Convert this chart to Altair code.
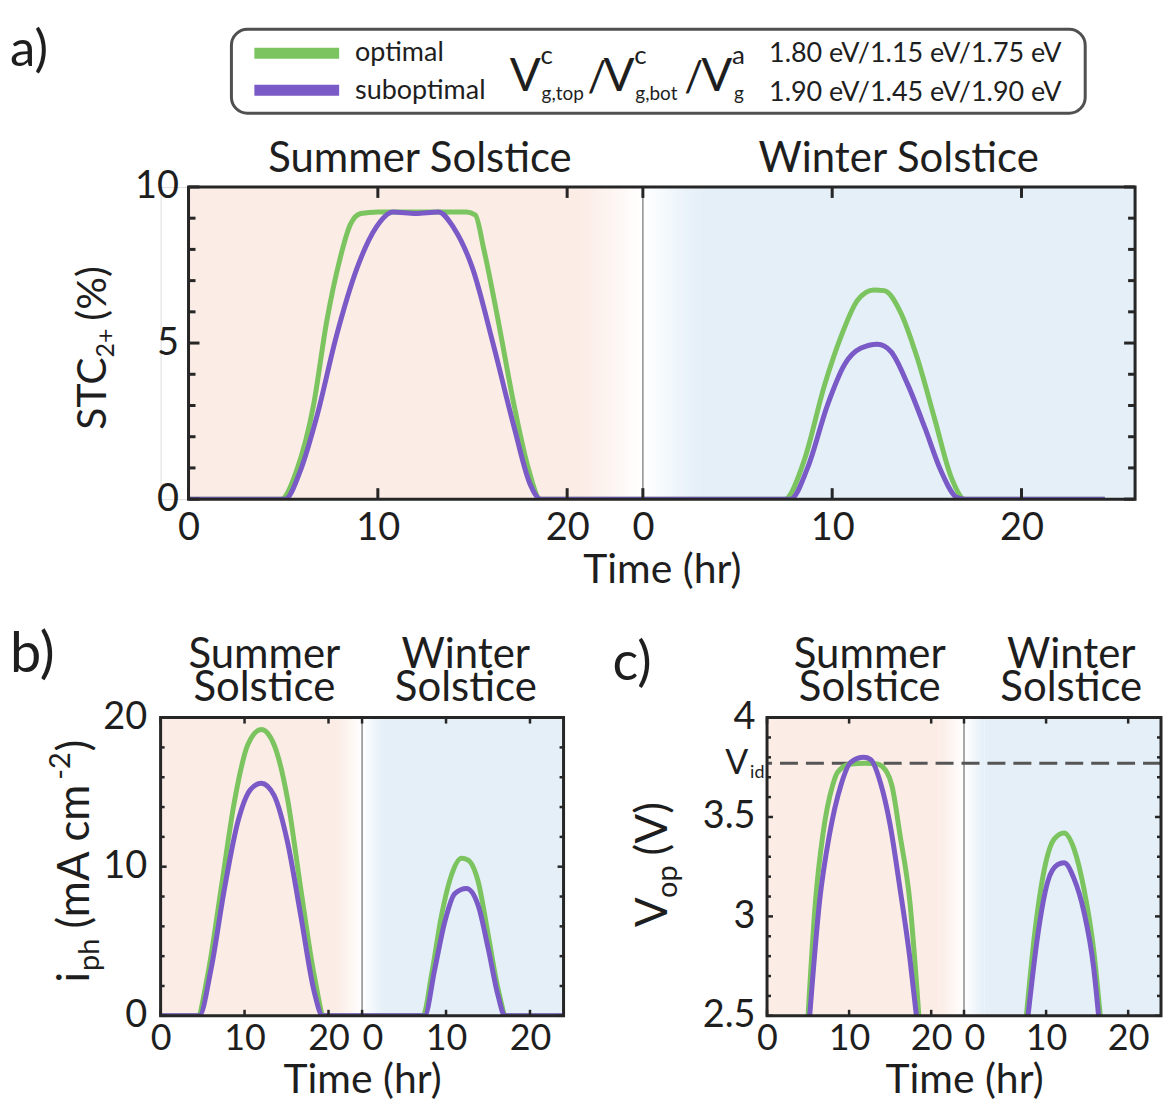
import altair as alt
import pandas as pd

GREEN = "#7bc45f"
PURPLE = "#7a5ac6"
PINK = "#fbece5"
BLUE = "#e4eff8"
FRAME = "#262626"
TXT = "#1e1e1e"
FONT = "Lato"
SERIES = ["optimal", "suboptimal"]
TICK_FS = 38
TITLE_FS = 41

# ---------------- data: (hour of day, value) ----------------
# panel a : STC_2+ (%)
a_sum_opt_h = [0, 4.9, 5.7, 6.6, 7.3, 8.0, 8.55, 9.1, 10, 11, 12, 13, 14, 14.7, 15.15, 15.6, 16.3, 17.2, 17.9, 18.6, 24]
a_sum_opt_v = [0, 0, 0.9, 3.0, 5.7, 7.7, 8.8, 9.15, 9.2, 9.2, 9.2, 9.2, 9.2, 9.2, 9.1, 8.0, 5.9, 3.0, 1.1, 0, 0]
a_sum_sub_h = [0, 5.1, 5.9, 6.8, 7.8, 8.9, 9.9, 10.8, 12.0, 13.2, 14.0, 15.0, 16.1, 17.2, 18.05, 18.6, 24]
a_sum_sub_v = [0, 0, 0.9, 2.7, 5.2, 7.4, 8.7, 9.2, 9.15, 9.2, 8.7, 7.4, 4.95, 2.3, 0.47, 0, 0]
a_win_opt_h = [0, 7.5, 8.5, 9.6, 10.5, 11.35, 12.2, 12.75, 13.6, 14.5, 15.4, 16.3, 17.0, 24.4]
a_win_opt_v = [0, 0, 1.2, 3.66, 5.26, 6.38, 6.7, 6.68, 6.0, 4.51, 2.6, 0.68, 0, 0]
a_win_sub_h = [0, 7.8, 8.7, 9.76, 10.64, 11.5, 12.4, 13.1, 14.0, 14.9, 15.75, 16.6, 17.0, 24.4]
a_win_sub_v = [0, 0, 1.0, 3.03, 4.3, 4.83, 4.96, 4.73, 3.66, 2.28, 0.9, 0.05, 0, 0]

# panel b : i_ph (mA cm^-2)
b_sum_opt_h = [0, 4.4, 5.6, 7.2, 8.8, 10.4, 12.0, 13.5, 15.1, 16.7, 18.3, 19.5, 24]
b_sum_opt_v = [0, 0, 2.7, 8.5, 14.4, 18.2, 19.2, 18.2, 14.6, 8.5, 2.7, 0, 0]
b_sum_sub_h = [0, 4.6, 6.0, 7.6, 9.2, 10.75, 12.0, 13.5, 15.1, 16.7, 18.3, 19.3, 24]
b_sum_sub_v = [0, 0, 3.1, 8.5, 13.0, 15.2, 15.6, 14.8, 11.7, 6.7, 1.6, 0, 0]
b_win_opt_h = [0, 7.26, 8.26, 9.45, 10.65, 11.84, 12.6, 13.83, 15.03, 16.2, 17.2, 24]
b_win_opt_v = [0, 0, 2.7, 6.7, 9.44, 10.56, 10.45, 9.0, 5.4, 1.8, 0, 0]
b_win_sub_h = [0, 7.45, 8.65, 9.85, 11.04, 12.44, 13.83, 15.03, 16.2, 17.0, 24]
b_win_sub_v = [0, 0, 3.1, 6.3, 8.2, 8.54, 7.4, 4.5, 1.35, 0, 0]

# panel c : V_op (V)  (only the part above the 2.5 V axis floor)
c_sum_opt_h = [5.0, 5.9, 6.8, 8.0, 8.6, 10.2, 12.0, 13.4, 14.6, 15.2, 16.2, 17.4, 18.5]
c_sum_opt_v = [2.5, 3.075, 3.41, 3.66, 3.725, 3.767, 3.77, 3.767, 3.725, 3.66, 3.41, 3.075, 2.5]
c_sum_sub_h = [5.2, 6.4, 7.6, 9.0, 10.2, 11.8, 12.6, 13.8, 15.0, 16.2, 17.4, 18.2]
c_sum_sub_v = [2.5, 3.075, 3.41, 3.66, 3.775, 3.80, 3.79, 3.675, 3.46, 3.14, 2.79, 2.5]
c_win_opt_h = [7.6, 8.6, 9.8, 11.0, 12.2, 13.4, 14.6, 15.8, 16.6]
c_win_opt_v = [2.5, 2.91, 3.24, 3.39, 3.42, 3.34, 3.14, 2.83, 2.5]
c_win_sub_h = [7.8, 9.0, 10.2, 11.4, 12.2, 13.4, 14.6, 15.8, 16.4]
c_win_sub_v = [2.5, 2.91, 3.175, 3.26, 3.27, 3.19, 3.025, 2.74, 2.5]
V_ID = 3.77

X_TICKS = [0, 10, 20, 24, 34, 44]   # winter day is shifted by 24 h
DAY_SHIFT = 24

# rough Lato advance widths (em) used only to chain the pieces of composite titles
LATO_W = {" ": .193, "(": .31, ")": .31, "%": .78, "+": .58, "-": .36, "/": .39, ",": .22, ".": .25,
          "A": .68, "C": .66, "S": .52, "T": .56, "V": .66, "a": .49, "b": .56, "c": .46, "d": .56,
          "e": .52, "g": .50, "h": .56, "i": .24, "l": .24, "m": .85, "o": .56, "p": .56, "r": .37,
          "s": .41, "t": .35, "u": .56}


def tw(s, fs):
    return sum(LATO_W.get(ch, .58) for ch in s) * fs


def long(rows):
    recs = []
    for series, day, hs, vs in rows:
        off = 0 if day == "summer" else DAY_SHIFT
        for h, v in zip(hs, vs):
            recs.append({"t": h + off, "v": v, "series": series, "day": day})
    return pd.DataFrame(recs)


def txt(s, x, y, fs, angle=0, align="left", baseline="alphabetic", color=TXT, line_height=None):
    kw = dict(lineBreak="\n", lineHeight=line_height) if line_height else {}
    return alt.Chart(pd.DataFrame({"s": [s]})).mark_text(
        font=FONT, fontSize=fs, angle=angle, align=align, baseline=baseline, color=color, **kw
    ).encode(text="s:N", x=alt.value(x), y=alt.value(y))


def vtitle(pieces, xb, yc):
    """rotated (bottom-to-top) title made of pieces (text, size, shift, gap);
    shift >0 moves a piece down in the text frame (subscript), <0 up (superscript)."""
    total = sum(tw(s, fs) + gap for s, fs, sh, gap in pieces)
    y = yc + total / 2
    out = []
    for s, fs, sh, gap in pieces:
        out.append(txt(s, xb + sh, y, fs, angle=270))
        y -= tw(s, fs) + gap
    return out


def anchor(x, y):
    return alt.Chart(pd.DataFrame({"a": [0]})).mark_rule(opacity=0).encode(
        x=alt.value(x), x2=alt.value(x + 1), y=alt.value(y), y2=alt.value(y + 1))


def panel(df, W, H, xmax, ydom, y_major, y_minor, fade0, fade1, lw, tl_major, tl_minor,
          tick_w, lab_pad_x, title_pad_x, lab_pad_y, xlab_fs, ox=0, shift_winter0=False,
          extras_below=(), extras_above=()):
    """ox: left inset of the plot frame inside the view (used to line up the panels)."""
    xs = alt.Scale(domain=[0, xmax], range=[ox, ox + W], nice=False, zero=False)
    ys = alt.Scale(domain=ydom, nice=False, zero=False)
    xkw = dict(titleX=ox + W / 2) if ox else {}
    if shift_winter0:
        xkw["labelAlign"] = {"condition": {"test": "datum.value == 24", "value": "left"}, "value": "center"}
    xaxis = alt.Axis(values=X_TICKS, labelExpr="'' + (datum.value >= 24 ? datum.value - 24 : datum.value)",
                     ticks=False, tickSize=0, domain=False, grid=False, labelFont=FONT,
                     labelFontSize=xlab_fs, labelColor=TXT, labelPadding=lab_pad_x, labelOverlap=False,
                     labelFlush=False, title="Time (hr)", titleFont=FONT, titleFontSize=TITLE_FS,
                     titleFontWeight="normal", titleColor=TXT, titlePadding=title_pad_x, **xkw)
    yaxis = alt.Axis(values=y_major, labelExpr="'' + datum.value", ticks=False, tickSize=0,
                     domain=False, grid=False, labelFont=FONT, labelFontSize=TICK_FS, labelColor=TXT,
                     labelPadding=lab_pad_y, labelOverlap=False, labelFlush=False, title=None,
                     offset=-ox)

    def band(x0, x1, fill):
        return alt.Chart(pd.DataFrame({"t": [x0], "t2": [x1]})).mark_rect(fill=fill).encode(
            x=alt.X("t:Q", scale=xs, axis=xaxis), x2="t2:Q", y=alt.value(0), y2=alt.value(H))

    grad_a = {"gradient": "linear", "x1": 0, "x2": 1, "y1": 0, "y2": 0,
              "stops": [{"offset": 0, "color": PINK}, {"offset": 1, "color": "#ffffff"}]}
    grad_b = {"gradient": "linear", "x1": 0, "x2": 1, "y1": 0, "y2": 0,
              "stops": [{"offset": 0, "color": "#ffffff"}, {"offset": 1, "color": BLUE}]}
    layers = [band(0, fade0, PINK), band(fade0, DAY_SHIFT, grad_a),
              band(DAY_SHIFT, fade1, grad_b), band(fade1, xmax, BLUE)]
    layers.append(alt.Chart(pd.DataFrame({"t": [DAY_SHIFT]})).mark_rule(color="#8c8c8c", strokeWidth=1.5)
                  .encode(x=alt.X("t:Q", scale=xs, axis=xaxis)))
    layers += list(extras_below)
    layers.append(alt.Chart(df).mark_line(strokeWidth=lw, interpolate="monotone", clip=True).encode(
        x=alt.X("t:Q", scale=xs, axis=xaxis),
        y=alt.Y("v:Q", scale=ys, axis=yaxis),
        color=alt.Color("series:N", scale=alt.Scale(domain=SERIES, range=[GREEN, PURPLE]), legend=None),
        detail="day:N"))
    # inward ticks on all four sides (box style)
    for vals, L in ((y_major, tl_major), (y_minor, tl_minor)):
        d = pd.DataFrame({"v": vals})
        layers.append(alt.Chart(d).mark_rule(color=FRAME, strokeWidth=tick_w).encode(
            y=alt.Y("v:Q", scale=ys, axis=yaxis), x=alt.value(ox), x2=alt.value(ox + L)))
        layers.append(alt.Chart(d).mark_rule(color=FRAME, strokeWidth=tick_w).encode(
            y=alt.Y("v:Q", scale=ys, axis=yaxis), x=alt.value(ox + W), x2=alt.value(ox + W - L)))
    d = pd.DataFrame({"t": X_TICKS})
    layers.append(alt.Chart(d).mark_rule(color=FRAME, strokeWidth=tick_w).encode(
        x=alt.X("t:Q", scale=xs, axis=xaxis), y=alt.value(H), y2=alt.value(H - tl_major)))
    layers.append(alt.Chart(d).mark_rule(color=FRAME, strokeWidth=tick_w).encode(
        x=alt.X("t:Q", scale=xs, axis=xaxis), y=alt.value(0), y2=alt.value(tl_major)))
    # frame
    layers.append(alt.Chart(pd.DataFrame({"a": [0]})).mark_rect(
        filled=False, stroke=FRAME, strokeWidth=3).encode(
        x=alt.value(ox), x2=alt.value(ox + W), y=alt.value(0), y2=alt.value(H)))
    layers += list(extras_above)
    return alt.layer(*layers).properties(width=W + ox, height=H)


# ---------------- panel a ----------------
WA, HA, OXA = 949, 313, 28
df_a = long([("optimal", "summer", a_sum_opt_h, a_sum_opt_v), ("optimal", "winter", a_win_opt_h, a_win_opt_v),
             ("suboptimal", "summer", a_sum_sub_h, a_sum_sub_v), ("suboptimal", "winter", a_win_sub_h, a_win_sub_v)])
o = OXA
leg_box = alt.Chart(pd.DataFrame({"a": [0]})).mark_rect(
    filled=False, stroke="#505050", strokeWidth=3, cornerRadius=16).encode(
    x=alt.value(o + 43), x2=alt.value(o + 899), y=alt.value(-158), y2=alt.value(-74))
sw_g = alt.Chart(pd.DataFrame({"a": [0]})).mark_rule(color=GREEN, strokeWidth=11).encode(
    x=alt.value(o + 66), x2=alt.value(o + 151), y=alt.value(-134))
sw_p = alt.Chart(pd.DataFrame({"a": [0]})).mark_rule(color=PURPLE, strokeWidth=11).encode(
    x=alt.value(o + 66), x2=alt.value(o + 151), y=alt.value(-97))

a_extra = [
    anchor(o - 180, -164), anchor(o - 180, 421),
    txt("a)", o - 179, -121, 51),
    leg_box, sw_g, sw_p,
    txt("optimal", o + 167, -126, 27), txt("suboptimal", o + 167, -88, 27),
    txt("V", o + 322, -96, 46), txt("c", o + 353, -123, 26), txt("g,top", o + 354, -87, 19),
    txt("/", o + 400, -96, 42),
    txt("V", o + 416, -96, 46), txt("c", o + 447, -123, 26), txt("g,bot", o + 448, -87, 19),
    txt("/", o + 497, -96, 42),
    txt("V", o + 514, -96, 46), txt("a", o + 545, -123, 26), txt("g", o + 547, -87, 19),
    txt("1.80 eV/1.15 eV/1.75 eV", o + 582, -125, 27), txt("1.90 eV/1.45 eV/1.90 eV", o + 582, -86, 27),
    txt("Summer Solstice", o + 232, -15, 42, align="center"),
    txt("Winter Solstice", o + 712, -15, 42, align="center"),
] + vtitle([("STC", TITLE_FS, 0, 1), ("2+", 25, 8, 8), ("(%)", TITLE_FS, 0, 0)], o - 83, 160)
panel_a = panel(df_a, WA, HA, 50, [0, 10], [0, 5, 10], [1, 2, 3, 4, 6, 7, 8, 9], 20.8, 27,
                5, 11, 7, 3, 10, 4, 10, 38, ox=OXA, extras_above=a_extra)

# ---------------- panel b ----------------
WB, HB = 404, 299
YT_FS = 44
df_b = long([("optimal", "summer", b_sum_opt_h, b_sum_opt_v), ("optimal", "winter", b_win_opt_h, b_win_opt_v),
             ("suboptimal", "summer", b_sum_sub_h, b_sum_sub_v), ("suboptimal", "winter", b_win_sub_h, b_win_sub_v)])
b_extra = [
    anchor(-152, -103), anchor(WB + 2, -103),
    txt("b)", -151, -46, 56),
    txt("Summer\nSolstice", 104, -50, 42, align="center", line_height=33),
    txt("Winter\nSolstice", 306, -50, 42, align="center", line_height=33),
] + vtitle([("i", YT_FS, 0, 1), ("ph", 29, 10, 10), ("(mA cm", YT_FS, 0, 2), ("-2", 29, -19, 1),
            (")", YT_FS, 0, 0)], -72, 143)
panel_b = panel(df_b, WB, HB, 48, [0, 20], [0, 10, 20], [2, 4, 6, 8, 12, 14, 16, 18], 21, 26.5,
                5, 6, 4, 2.5, 6, 4, 14, 36, shift_winter0=True, extras_above=b_extra)

# ---------------- panel c ----------------
WC, HC = 395, 299
df_c = long([("optimal", "summer", c_sum_opt_h, c_sum_opt_v), ("optimal", "winter", c_win_opt_h, c_win_opt_v),
             ("suboptimal", "summer", c_sum_sub_h, c_sum_sub_v), ("suboptimal", "winter", c_win_sub_h, c_win_sub_v)])
ys_c = alt.Scale(domain=[2.5, 4], nice=False, zero=False)
vid_line = alt.Chart(pd.DataFrame({"v": [V_ID]})).mark_rule(
    color="#555555", strokeWidth=3, strokeDash=[18, 8]).encode(y=alt.Y("v:Q", scale=ys_c))
c_minor = [round(2.5 + 0.1 * i, 1) for i in range(16) if round(2.5 + 0.1 * i, 1) not in (2.5, 3.0, 3.5, 4.0)]
c_extra = [
    anchor(-165, -103),
    txt("c)", -155, -38, 54),
    txt("Summer\nSolstice", 103, -50, 42, align="center", line_height=33),
    txt("Winter\nSolstice", 305, -50, 42, align="center", line_height=33),
    txt("V", -42, 57, 34), txt("id", -17, 61, 18),
] + vtitle([("V", YT_FS, 0, 0), ("op", 29, 10, 10), ("(V)", YT_FS, 0, 0)], -100, 146)
panel_c = panel(df_c, WC, HC, 48, [2.5, 4], [2.5, 3, 3.5, 4], c_minor, 21, 26.5,
                5, 6, 4, 2.5, 6, 4, 12, 36, shift_winter0=True, extras_below=[vid_line], extras_above=c_extra)

row2 = alt.hconcat(panel_b, panel_c, spacing=34)
chart = alt.concat(panel_a, row2, columns=1, spacing=5, align="none").properties(
    padding={"left": 0, "top": 13, "right": 0, "bottom": 0}
).configure_view(stroke=None).configure(font=FONT)

chart.save("out.html", embed_options={"renderer": "svg", "actions": False})
